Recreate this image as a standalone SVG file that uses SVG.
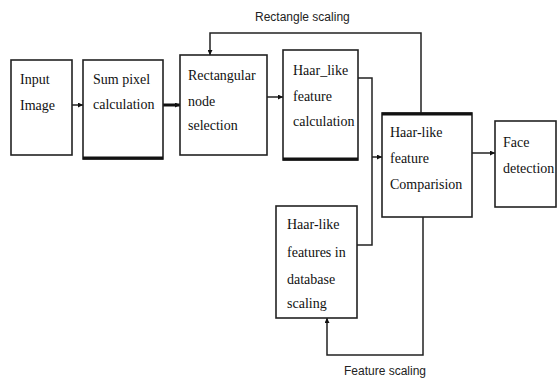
<svg xmlns="http://www.w3.org/2000/svg" width="558" height="383" viewBox="0 0 558 383">
<defs>
<marker id="ah" viewBox="0 0 10 10" refX="10" refY="5" markerWidth="5" markerHeight="5" orient="auto-start-reverse" markerUnits="userSpaceOnUse">
<path d="M0,0 L10,5 L0,10 z" fill="#111"/>
</marker>
<style>
.box{fill:#fff;stroke:#222;stroke-width:1.6}
.thick{stroke:#111;stroke-width:3.2;fill:none}
.t{font-family:'Liberation Serif','DejaVu Serif','Times New Roman',serif;font-size:14px;fill:#111}
.lbl{font-family:'Liberation Sans','DejaVu Sans',Arial,sans-serif;font-size:12px;fill:#222}
.c{fill:none;stroke:#222;stroke-width:1.5}
</style>
</defs>
<rect width="558" height="383" fill="#fff"/>
<g id="connectors">
<line class="c" x1="72" y1="105" x2="83" y2="105" marker-end="url(#ah)"/>
<line x1="163" y1="105" x2="180" y2="105" stroke="#111" stroke-width="3" marker-end="url(#ah)"/>
<line class="c" x1="267" y1="97" x2="283" y2="97" marker-end="url(#ah)"/>
<polyline class="c" points="358,78 372,78 372,245 357,245"/>
<line class="c" x1="372" y1="157" x2="382" y2="157" marker-end="url(#ah)"/>
<line class="c" x1="472" y1="153" x2="495" y2="153" marker-end="url(#ah)"/>
<polyline class="c" stroke="#444" points="421,113 421,33 210,33 210,55" marker-end="url(#ah)"/>
<polyline class="c" points="423,217 423,355 327,355 327,318" marker-end="url(#ah)"/>
</g>
<g id="label-rect-scaling"><text class="lbl" x="255" y="21">Rectangle scaling</text></g>
<g id="label-feature-scaling"><text class="lbl" x="344" y="375">Feature scaling</text></g>
<g id="input">
<rect class="box" x="11" y="60" width="61" height="95"/>
<text class="t" x="20" y="84" font-family="Liberation Serif, serif">Input</text>
<text class="t" x="20" y="110" font-family="Liberation Serif, serif">Image</text>
</g>
<g id="sum">
<rect class="box" x="83" y="60" width="80" height="99"/>
<line class="thick" x1="83" y1="158" x2="163" y2="158"/>
<text class="t" x="93" y="84">Sum pixel</text>
<text class="t" x="93" y="109">calculation</text>
</g>
<g id="rectnode">
<rect class="box" x="180" y="55" width="87" height="100"/>
<text class="t" x="188" y="80">Rectangular</text>
<text class="t" x="188" y="106">node</text>
<text class="t" x="188" y="130">selection</text>
</g>
<g id="calc">
<rect class="box" x="283" y="50" width="75" height="110"/>
<line class="thick" x1="283" y1="159" x2="358" y2="159"/>
<text class="t" x="293" y="75">Haar_like</text>
<text class="t" x="293" y="101">feature</text>
<text class="t" x="293" y="126">calculation</text>
</g>
<g id="compare">
<rect class="box" x="382" y="113" width="90" height="104"/>
<line class="thick" x1="382" y1="114" x2="472" y2="114"/>
<text class="t" x="390" y="137">Haar-like</text>
<text class="t" x="390" y="163">feature</text>
<text class="t" x="390" y="189">Comparision</text>
</g>
<g id="face">
<rect class="box" x="495" y="121" width="61" height="86"/>
<text class="t" x="503" y="147">Face</text>
<text class="t" x="503" y="173">detection</text>
</g>
<g id="database">
<rect class="box" x="276" y="206" width="81" height="112"/>
<text class="t" x="287" y="229">Haar-like</text>
<text class="t" x="287" y="257">features in</text>
<text class="t" x="287" y="284">database</text>
<text class="t" x="287" y="308">scaling</text>
</g>
</svg>
